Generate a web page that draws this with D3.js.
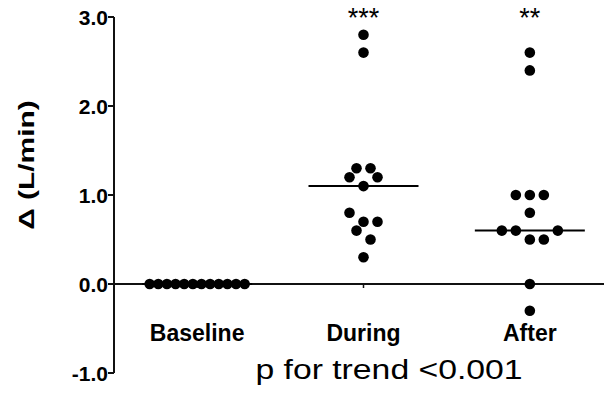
<!DOCTYPE html>
<html>
<head>
<meta charset="utf-8">
<script src="https://cdn.jsdelivr.net/npm/d3@7"></script>
<style>
body { margin: 0; background: #fff; }
svg { display: block; }
text { font-family: Arial, "Liberation Sans", sans-serif; fill: #000; }
</style>
</head>
<body>
<script>
// data
var groups = ["Baseline", "During", "After"];
var baseline = [0, 0, 0, 0, 0, 0, 0, 0, 0, 0, 0, 0];
var during = [2.8, 2.6, 1.3, 1.3, 1.2, 1.2, 1.1, 0.8, 0.7, 0.7, 0.6, 0.5, 0.3];
var after = [2.6, 2.4, 1.0, 1.0, 1.0, 0.8, 0.6, 0.6, 0.6, 0.5, 0.5, 0.0, -0.3];
var stars = ["", "***", "**"];
var yTicks = [-1, 0, 1, 2, 3];
var series = [baseline, during, after];

var W = 604, H = 402;
var r = 5.3, slot = 14, maxSpread = 95;

var svg = d3.select("body").append("svg")
    .attr("width", W)
    .attr("height", H);

var x = d3.scaleBand()
    .domain(groups)
    .range([114, 613]);

var y = d3.scaleLinear()
    .domain([-1, 3])
    .range([373, 17]);

// Prism-like scatter: values binned by ~symbol height, spread around the column centre
function swarm(vals) {
    var sorted = vals.slice().sort(d3.ascending);
    var bins = d3.group(sorted, function(v) { return Math.floor(v * 5 + 0.5 + 1e-6); });
    var out = [];
    bins.forEach(function(b) {
        var n = b.length,
            step = Math.min(slot, maxSpread / Math.max(n - 1, 1));
        b.forEach(function(v, i) {
            var k = n % 2 ? Math.ceil(i / 2) * (i % 2 ? 1 : -1)
                          : (Math.floor(i / 2) + 0.5) * (i % 2 ? -1 : 1);
            out.push({v: v, dx: k * step});
        });
    });
    return out;
}

// y axis
svg.append("line")
    .attr("x1", 114).attr("x2", 114)
    .attr("y1", y(3)).attr("y2", y(-1))
    .attr("stroke", "#111").attr("stroke-width", 2);

svg.selectAll(".ytick").data(yTicks).enter().append("line")
    .attr("x1", 108).attr("x2", 114)
    .attr("y1", function(d) { return y(d); })
    .attr("y2", function(d) { return y(d); })
    .attr("stroke", "#111").attr("stroke-width", 2);

svg.selectAll(".ylab").data(yTicks).enter().append("text")
    .attr("x", 108)
    .attr("y", function(d) { return y(d); })
    .attr("dy", "0.36em")
    .attr("text-anchor", "end")
    .attr("font-size", 21)
    .attr("font-weight", "bold")
    .text(function(d) { return d.toFixed(1); });

// y title (stretched along its length, as in the original)
svg.append("text")
    .attr("transform", "translate(34,165) rotate(-90) scale(1.36,1)")
    .attr("text-anchor", "middle")
    .attr("font-size", 22)
    .attr("font-weight", "bold")
    .text("\u0394 (L/min)");

// x axis at zero
svg.append("line")
    .attr("x1", 114).attr("x2", W)
    .attr("y1", y(0)).attr("y2", y(0))
    .attr("stroke", "#111").attr("stroke-width", 2);

svg.selectAll(".xtick").data(groups).enter().append("line")
    .attr("x1", function(d) { return x(d) + x.bandwidth() / 2; })
    .attr("x2", function(d) { return x(d) + x.bandwidth() / 2; })
    .attr("y1", y(0)).attr("y2", y(0) + 4)
    .attr("stroke", "#111").attr("stroke-width", 1.5);

svg.selectAll(".xlab").data(groups).enter().append("text")
    .attr("x", function(d) { return x(d) + x.bandwidth() / 2; })
    .attr("y", 341)
    .attr("text-anchor", "middle")
    .attr("font-size", 23)
    .attr("font-weight", "bold")
    .text(function(d) { return d; });

// groups: medians, dots, significance
groups.forEach(function(g, i) {
    var cx = x(g) + x.bandwidth() / 2,
        vals = series[i],
        med = d3.median(vals);

    svg.append("line")
        .attr("x1", cx - 55).attr("x2", cx + 55)
        .attr("y1", y(med)).attr("y2", y(med))
        .attr("stroke", "#000").attr("stroke-width", 2);

    svg.selectAll(".dot" + i).data(swarm(vals)).enter().append("circle")
        .attr("cx", function(d) { return cx + d.dx; })
        .attr("cy", function(d) { return y(d.v); })
        .attr("r", r)
        .attr("fill", "#000");

    svg.append("text")
        .attr("x", cx)
        .attr("y", 27)
        .attr("text-anchor", "middle")
        .attr("font-size", 27)
        .text(stars[i]);
});

svg.append("text")
    .attr("transform", "translate(389,379) scale(1.25,1)")
    .attr("text-anchor", "middle")
    .attr("font-size", 27)
    .text("p for trend <0.001");
</script>
</body>
</html>
